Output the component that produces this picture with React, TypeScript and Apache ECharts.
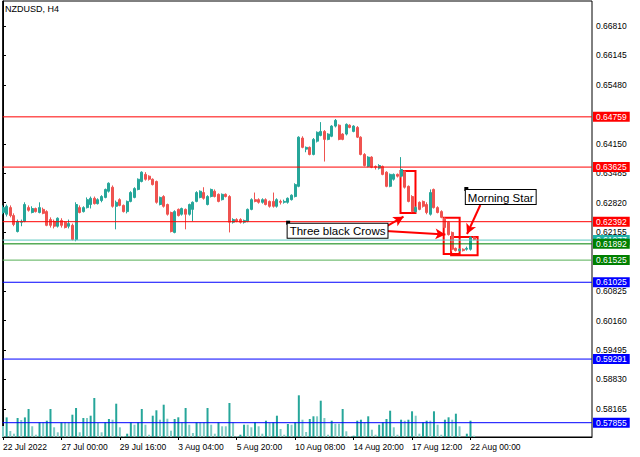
import React, { useEffect, useRef } from 'react';
import * as echarts from 'echarts';

// [open, close, low, high] per H4 bar
const CANDLES: [number, number, number, number][] = [
  [0.6260, 0.6271, 0.6256, 0.6276], [0.6256, 0.6274, 0.6251, 0.6278], [0.6271, 0.6253, 0.6249, 0.6276], [0.6253, 0.6233, 0.6229, 0.6258],
  [0.6217, 0.6240, 0.6215, 0.6244], [0.6238, 0.6240, 0.6229, 0.6244], [0.6240, 0.6278, 0.6238, 0.6283], [0.6271, 0.6265, 0.6262, 0.6276],
  [0.6260, 0.6269, 0.6258, 0.6274], [0.6269, 0.6262, 0.6260, 0.6271], [0.6260, 0.6271, 0.6258, 0.6283], [0.6267, 0.6258, 0.6256, 0.6271],
  [0.6262, 0.6231, 0.6229, 0.6265], [0.6244, 0.6231, 0.6226, 0.6249], [0.6240, 0.6229, 0.6224, 0.6244], [0.6229, 0.6247, 0.6226, 0.6249],
  [0.6242, 0.6231, 0.6226, 0.6247], [0.6238, 0.6226, 0.6224, 0.6240], [0.6229, 0.6235, 0.6224, 0.6244], [0.6231, 0.6199, 0.6197, 0.6235],
  [0.6199, 0.6278, 0.6195, 0.6283], [0.6271, 0.6260, 0.6258, 0.6276], [0.6262, 0.6271, 0.6260, 0.6274], [0.6271, 0.6289, 0.6269, 0.6294],
  [0.6278, 0.6292, 0.6269, 0.6296], [0.6292, 0.6280, 0.6278, 0.6296], [0.6280, 0.6289, 0.6278, 0.6292], [0.6287, 0.6296, 0.6283, 0.6299],
  [0.6294, 0.6312, 0.6292, 0.6314], [0.6308, 0.6326, 0.6305, 0.6328], [0.6317, 0.6274, 0.6271, 0.6321], [0.6274, 0.6283, 0.6222, 0.6287],
  [0.6289, 0.6276, 0.6274, 0.6292], [0.6276, 0.6262, 0.6260, 0.6278], [0.6262, 0.6285, 0.6258, 0.6287], [0.6285, 0.6305, 0.6283, 0.6308],
  [0.6294, 0.6314, 0.6292, 0.6317], [0.6312, 0.6335, 0.6310, 0.6337], [0.6330, 0.6351, 0.6328, 0.6353], [0.6346, 0.6335, 0.6332, 0.6351],
  [0.6342, 0.6335, 0.6332, 0.6344], [0.6335, 0.6323, 0.6321, 0.6337], [0.6330, 0.6283, 0.6280, 0.6332], [0.6278, 0.6294, 0.6276, 0.6296],
  [0.6296, 0.6274, 0.6271, 0.6299], [0.6278, 0.6256, 0.6253, 0.6280], [0.6260, 0.6217, 0.6215, 0.6262], [0.6215, 0.6262, 0.6213, 0.6265],
  [0.6267, 0.6253, 0.6251, 0.6269], [0.6256, 0.6269, 0.6253, 0.6271], [0.6267, 0.6256, 0.6222, 0.6269], [0.6256, 0.6278, 0.6253, 0.6280],
  [0.6267, 0.6283, 0.6240, 0.6285], [0.6285, 0.6305, 0.6283, 0.6308], [0.6294, 0.6308, 0.6292, 0.6310], [0.6305, 0.6292, 0.6289, 0.6317],
  [0.6278, 0.6296, 0.6276, 0.6299], [0.6296, 0.6312, 0.6294, 0.6314], [0.6308, 0.6296, 0.6294, 0.6312], [0.6301, 0.6285, 0.6283, 0.6303],
  [0.6289, 0.6301, 0.6287, 0.6303], [0.6301, 0.6296, 0.6294, 0.6303], [0.6296, 0.6238, 0.6215, 0.6299], [0.6238, 0.6244, 0.6235, 0.6247],
  [0.6244, 0.6240, 0.6238, 0.6247], [0.6244, 0.6238, 0.6235, 0.6247], [0.6238, 0.6242, 0.6235, 0.6244], [0.6240, 0.6267, 0.6238, 0.6269],
  [0.6267, 0.6289, 0.6265, 0.6292], [0.6289, 0.6285, 0.6283, 0.6305], [0.6289, 0.6283, 0.6280, 0.6292], [0.6283, 0.6289, 0.6280, 0.6292],
  [0.6289, 0.6278, 0.6276, 0.6292], [0.6285, 0.6274, 0.6271, 0.6287], [0.6285, 0.6274, 0.6271, 0.6305], [0.6274, 0.6289, 0.6271, 0.6292],
  [0.6285, 0.6283, 0.6278, 0.6289], [0.6283, 0.6285, 0.6280, 0.6289], [0.6283, 0.6292, 0.6280, 0.6294], [0.6289, 0.6299, 0.6287, 0.6301],
  [0.6296, 0.6323, 0.6294, 0.6326], [0.6319, 0.6430, 0.6317, 0.6432], [0.6428, 0.6407, 0.6405, 0.6432], [0.6403, 0.6407, 0.6396, 0.6409],
  [0.6407, 0.6391, 0.6389, 0.6409], [0.6391, 0.6425, 0.6389, 0.6428], [0.6421, 0.6441, 0.6418, 0.6443], [0.6434, 0.6443, 0.6432, 0.6464],
  [0.6443, 0.6425, 0.6375, 0.6446], [0.6425, 0.6437, 0.6423, 0.6439], [0.6432, 0.6455, 0.6430, 0.6457], [0.6455, 0.6468, 0.6452, 0.6471],
  [0.6457, 0.6425, 0.6423, 0.6459], [0.6437, 0.6425, 0.6423, 0.6439], [0.6437, 0.6459, 0.6434, 0.6461], [0.6457, 0.6452, 0.6450, 0.6459],
  [0.6443, 0.6455, 0.6441, 0.6457], [0.6452, 0.6430, 0.6428, 0.6455], [0.6430, 0.6391, 0.6389, 0.6432], [0.6391, 0.6366, 0.6364, 0.6394],
  [0.6364, 0.6385, 0.6362, 0.6387], [0.6385, 0.6362, 0.6360, 0.6387], [0.6364, 0.6362, 0.6357, 0.6366], [0.6360, 0.6366, 0.6357, 0.6369],
  [0.6364, 0.6346, 0.6344, 0.6366], [0.6351, 0.6319, 0.6317, 0.6353], [0.6319, 0.6346, 0.6317, 0.6348], [0.6335, 0.6346, 0.6332, 0.6348],
  [0.6346, 0.6342, 0.6339, 0.6348], [0.6342, 0.6357, 0.6339, 0.6385], [0.6353, 0.6317, 0.6314, 0.6355], [0.6319, 0.6285, 0.6283, 0.6321],
  [0.6296, 0.6262, 0.6260, 0.6299], [0.6262, 0.6271, 0.6260, 0.6274], [0.6283, 0.6267, 0.6265, 0.6285], [0.6285, 0.6274, 0.6271, 0.6287],
  [0.6278, 0.6260, 0.6256, 0.6283], [0.6256, 0.6305, 0.6253, 0.6312], [0.6312, 0.6271, 0.6269, 0.6314], [0.6271, 0.6260, 0.6258, 0.6274],
  [0.6262, 0.6249, 0.6247, 0.6265], [0.6247, 0.6226, 0.6224, 0.6249], [0.6238, 0.6210, 0.6208, 0.6240], [0.6215, 0.6177, 0.6172, 0.6217],
  [0.6179, 0.6174, 0.6172, 0.6181], [0.6174, 0.6177, 0.6172, 0.6179], [0.6177, 0.6174, 0.6172, 0.6179], [0.6177, 0.6179, 0.6174, 0.6183],
  [0.6177, 0.6204, 0.6174, 0.6206], [0.6204, 0.6199, 0.6197, 0.6206],
];

// tick volumes per bar
const VOLUMES: number[] = [
  1100, 1960, 600, 330, 1900, 1700, 1960, 2800, 1070, 230, 1470, 1470, 1630, 2800, 970, 470,
  1470, 1470, 1470, 2230, 2900, 470, 1900, 1900, 2130, 3900, 1400, 470, 1470, 1800, 1730, 3330,
  970, 100, 330, 1470, 1230, 1470, 2800, 1230, 230, 2130, 2670, 1730, 3230, 1830, 630, 1800,
  1970, 1470, 2900, 1230, 400, 1470, 1470, 1470, 2900, 1230, 330, 1470, 1070, 1070, 3400, 1470,
  100, 230, 1230, 1230, 970, 1470, 1070, 330, 1630, 1400, 1470, 2130, 800, 230, 1300, 1230,
  1470, 4170, 1730, 500, 1800, 2070, 2070, 3630, 1900, 230, 1630, 1330, 1330, 2800, 570, 100,
  130, 1630, 1730, 1470, 2070, 730, 230, 1230, 1470, 1800, 2630, 970, 230, 1730, 1630, 1730,
  2570, 2130, 330, 1470, 1630, 1630, 2570, 1230, 230, 1730, 1970, 1730, 2330, 1070, 0, 330,
  1630, 130,
];

const X_TICK_INDEX = [0, 16, 32, 48, 64, 80, 96, 112, 128];
const X_TICK_LABELS = ['22 Jul 2022', '27 Jul 00:00', '29 Jul 16:00', '3 Aug 04:00', '5 Aug 20:00', '10 Aug 08:00', '14 Aug 20:00', '17 Aug 12:00', '22 Aug 00:00'];
const Y_TICKS = [0.58165, 0.5883, 0.59495, 0.6016, 0.60825, 0.62155, 0.6282, 0.63485, 0.6415, 0.6548, 0.66145, 0.6681];

const LEVEL_VALUES = [0.64759, 0.63625, 0.62392, 0.61977, 0.61892, 0.61525, 0.61025, 0.59291, 0.57855];
const LEVEL_LINE_COLORS = ['#ff0000', '#ff0000', '#ff0000', '#5cc8c0', '#008000', '#55b055', '#0000ff', '#0000ff', '#0000ff'];
const LEVEL_LABEL_COLORS = ['#ff0000', '#ff0000', '#ff0000', '#20b2aa', '#008000', '#008000', '#0000ff', '#0000ff', '#0000ff'];

// annotation objects in data coordinates [barIndex, price]
const PATTERN_BOXES: [number, number, number, number][] = [
  [108.84, 0.63537, 112.94, 0.62589],
  [120.66, 0.62483, 125.03, 0.61663],
  [122.69, 0.62047, 129.95, 0.61634],
];
const ARROWS: [number, number, number, number][] = [
  [104.75, 0.62273, 109.66, 0.62505],
  [104.75, 0.62183, 121.13, 0.62103],
  [130.69, 0.62769, 127.05, 0.62115],
];
const TEXT_NAMES = ['Three black Crows', 'Morning Star'];
const TEXT_ANCHORS: [number, number][] = [
  [78.07, 0.6237],
  [126.86, 0.6313],
];

const X_MIN = -0.1;
const X_MAX = 161.27;
const UP = '#26a69a';
const DOWN = '#ef5350';
const FONT = 'Liberation Sans';

export default function App() {
  const ref = useRef<HTMLDivElement>(null);

  useEffect(() => {
    document.body.style.margin = '0';
    if (!ref.current) return;
    const chart = echarts.init(ref.current, undefined, { renderer: 'svg' });

    const levelSeries = LEVEL_VALUES.map((v, k) => ({
      type: 'line',
      name: 'level' + k,
      yAxisIndex: 0,
      silent: true,
      z: 3,
      symbol: 'none',
      clip: false,
      data: [[X_MIN, v], [X_MAX, v]],
      lineStyle: { color: LEVEL_LINE_COLORS[k], width: 1, type: 'solid' },
      itemStyle: { color: LEVEL_LINE_COLORS[k] },
      endLabel: {
        show: true,
        distance: 1,
        formatter: () => v.toFixed(5),
        color: '#fff',
        backgroundColor: LEVEL_LABEL_COLORS[k],
        padding: [1, 3, 0, 3],
        fontSize: 8.5,
        lineHeight: 9,
        fontFamily: FONT,
        align: 'left',
        verticalAlign: 'middle',
      },
    }));

    const arrowLines = ARROWS.map((a) => [
      { coord: [a[0], a[1]], symbol: 'none', lineStyle: { color: '#ff0000', width: 2, type: 'solid' }, label: { show: false } },
      { coord: [a[2], a[3]], symbol: 'arrow', symbolSize: [8, 10] },
    ]);

    const option: any = {
      animation: false,
      backgroundColor: '#ffffff',
      textStyle: { fontFamily: FONT },
      title: {
        text: 'NZDUSD, H4',
        left: 5,
        top: 4,
        padding: 0,
        textStyle: { fontSize: 9, fontWeight: 'normal', color: '#000', fontFamily: FONT },
      },
      grid: {
        left: 1,
        top: 1,
        right: 48,
        bottom: 20,
        show: true,
        borderColor: '#000',
        borderWidth: 1,
        backgroundColor: '#fff',
      },
      xAxis: {
        type: 'value',
        min: X_MIN,
        max: X_MAX,
        axisLine: { show: true, lineStyle: { color: '#000', width: 1 } },
        axisTick: { show: true, customValues: X_TICK_INDEX, length: 3, lineStyle: { color: '#000' } },
        axisLabel: {
          customValues: X_TICK_INDEX,
          formatter: (v: number) => {
            const k = X_TICK_INDEX.indexOf(Math.round(v));
            return k >= 0 ? X_TICK_LABELS[k] : '';
          },
          align: 'left',
          margin: 5,
          fontSize: 8.5,
          color: '#000',
          fontFamily: FONT,
        },
        splitLine: { show: false },
      },
      yAxis: [
        {
          type: 'value',
          position: 'right',
          min: 0.57532,
          max: 0.67374,
          axisLine: { show: true, lineStyle: { color: '#000', width: 1 } },
          axisTick: { show: true, customValues: Y_TICKS, length: 3, lineStyle: { color: '#000' } },
          axisLabel: {
            customValues: Y_TICKS,
            formatter: (v: number) => v.toFixed(5),
            margin: 4,
            fontSize: 8.5,
            color: '#000',
            fontFamily: FONT,
          },
          splitLine: { show: false },
        },
        { type: 'value', min: 0, max: 43600, show: false, splitLine: { show: false } },
      ],
      series: [
        {
          type: 'bar',
          yAxisIndex: 1,
          barWidth: 2,
          silent: true,
          z: 1,
          data: VOLUMES.map((v, i) => [i, v]),
          itemStyle: {
            color: (p: any) => (p.dataIndex > 0 && VOLUMES[p.dataIndex] > VOLUMES[p.dataIndex - 1] ? UP : '#80cbc4'),
          },
        },
        {
          type: 'candlestick',
          yAxisIndex: 0,
          barWidth: 2.5,
          silent: true,
          z: 2,
          encode: { x: 0, y: [1, 2, 3, 4] },
          data: CANDLES.map((c, i) => [i, c[0], c[1], c[2], c[3]]),
          itemStyle: { color: UP, color0: DOWN, borderColor: UP, borderColor0: DOWN, borderWidth: 1 },
        },
        ...levelSeries,
        {
          type: 'line',
          name: 'objects',
          yAxisIndex: 0,
          silent: true,
          z: 4,
          symbol: 'none',
          data: [],
          markLine: {
            silent: true,
            precision: 5,
            symbol: ['none', 'none'],
            animation: false,
            lineStyle: { color: '#ff0000', width: 2, type: 'solid' },
            data: arrowLines,
          },
          markArea: {
            silent: true,
            itemStyle: { color: 'rgba(0,0,0,0)', borderColor: '#ff0000', borderWidth: 2 },
            label: { show: false },
            data: PATTERN_BOXES.map((b) => [{ coord: [b[0], b[1]] }, { coord: [b[2], b[3]] }]),
          },
          markPoint: {
            silent: true,
            symbol: 'rect',
            symbolSize: 4,
            itemStyle: { color: '#000' },
            label: {
              show: true,
              formatter: (p: any) => p.name,
              position: [1.5, 3],
              align: 'left',
              verticalAlign: 'top',
              color: '#000',
              fontSize: 11.5,
              lineHeight: 13,
              fontFamily: FONT,
              backgroundColor: '#fff',
              borderColor: '#000',
              borderWidth: 1,
              padding: [1, 2, 0, 2],
            },
            data: TEXT_ANCHORS.map((a, k) => ({ name: TEXT_NAMES[k], coord: [a[0], a[1]] })),
          },
        },
      ],
    };

    chart.setOption(option);
    return () => chart.dispose();
  }, []);

  return <div ref={ref} style={{ width: 640, height: 457, position: 'absolute', left: 0, top: 0 }} />;
}
